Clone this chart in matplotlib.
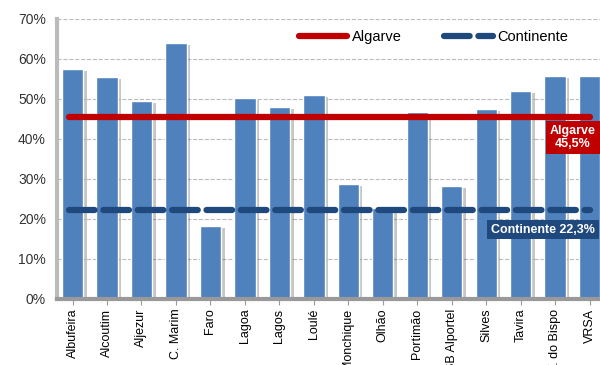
import matplotlib
matplotlib.use("Agg")
import matplotlib.pyplot as plt
import matplotlib.patheffects as pe
import numpy as np

concelhos = ["Albufeira", "Alcoutim", "Aljezur", "C. Marim", "Faro", "Lagoa", "Lagos", "Loulé",
             "Monchique", "Olhão", "Portimão", "SB Alportel", "Silves", "Tavira", "V. do Bispo", "VRSA"]
valores = [57.4, 55.5, 49.6, 64.1, 18.3, 50.3, 47.9, 51.0,
           28.7, 22.8, 46.8, 28.2, 47.6, 51.9, 55.8, 55.8]
algarve = 45.5
continente = 22.3

plt.rcParams['font.family'] = ['Liberation Sans', 'DejaVu Sans']

fig = plt.figure(figsize=(6, 3.65), dpi=100)
ax = fig.add_axes([0.095, 0.181, 0.905, 0.767])

x = np.arange(len(concelhos))
bars = ax.bar(x, valores, width=0.62, color="#4F81BD", edgecolor="white", linewidth=1.0, zorder=2)
for b in bars:
    b.set_path_effects([pe.SimplePatchShadow(offset=(2.5, -1.5), shadow_rgbFace="#444444", alpha=0.3),
                        pe.Normal()])

ax.plot([-0.1, 15.0], [algarve, algarve], color="#C00000", lw=4.5, solid_capstyle="round", zorder=3,
        label="Algarve")
ax.plot([-0.1, 15.0], [continente, continente], color="#1F497D", lw=4.5, dashes=(4.1, 1.4),
        dash_capstyle="round", zorder=3, label="Continente")

ax.text(14.52, 40.4, "Algarve\n45,5%", color="white", fontsize=9, fontweight="bold", ha="center",
        va="center", linespacing=1.15, zorder=5,
        bbox=dict(boxstyle="square,pad=0.3", fc="#C00000", ec="none"))
ax.text(13.65, 17.3, "Continente 22,3%", color="white", fontsize=9, fontweight="bold", ha="center",
        va="center", zorder=5, bbox=dict(boxstyle="square,pad=0.3", fc="#1F497D", ec="none"))

ax.set_xlim(-0.45, 15.3)
ax.set_ylim(0, 70)
ax.set_yticks(np.arange(0, 71, 10))
ax.set_yticklabels([f"{v}%" for v in range(0, 71, 10)], fontsize=10, color="#333333")
ax.set_xticks(x)
ax.set_xticklabels(concelhos, rotation=90, fontsize=9)
ax.grid(axis="y", color="#BBBBBB", ls="--", lw=0.8, zorder=0)
ax.set_axisbelow(True)
for s in ["top", "right"]:
    ax.spines[s].set_visible(False)
ax.spines["left"].set_color("#BBBBBB")
ax.spines["left"].set_linewidth(3)
ax.spines["bottom"].set_color("#999999")
ax.spines["bottom"].set_linewidth(3)
ax.tick_params(axis="x", length=4, color="#999999", pad=3)
ax.tick_params(axis="y", length=0, pad=8)

ax.legend(loc="center", bbox_to_anchor=(0.694, 0.936), ncol=2, frameon=False, fontsize=10.5,
          handlelength=3.3, columnspacing=2.9, handletextpad=0.35, borderpad=0)

fig.savefig("out.png", dpi=100)
